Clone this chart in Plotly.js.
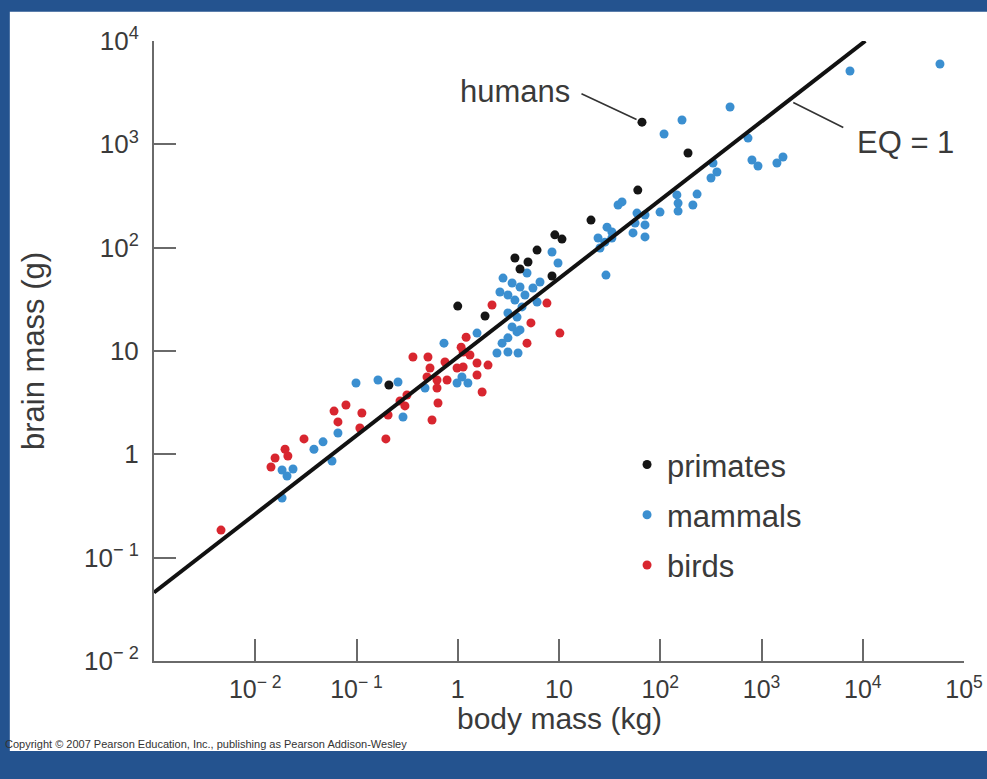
<!DOCTYPE html>
<html>
<head>
<meta charset="utf-8">
<script src="https://cdn.plot.ly/plotly-3.0.1.min.js"></script>
<style>
html,body{margin:0;padding:0;background:#24538f;}
#chart{width:987px;height:779px;}
</style>
</head>
<body>
<div id="chart"></div>
<script>
// ---- data (body mass in kg, brain mass in g) ----
const primatesBody  = [66, 188, 60, 20.7, 9.1, 10.7, 6.07, 3.67, 4.94, 4.12, 8.53, 1.86, 1.0, 0.209];
const primatesBrain = [1640, 824, 361, 185, 133, 121, 94.8, 79.4, 72.6, 62.1, 53.2, 21.8, 27.2, 4.69];

const mammalsBody = [57900, 7480, 489, 164, 109, 736, 805, 923, 1420, 1630,
  332, 363, 317, 231, 210, 146, 150, 150, 99.5,
  38.3, 41.9, 58.9, 70.7, 56.4, 70.7, 53.8, 70.7,
  29.8, 33.3, 24.3, 28.4, 25.4, 29.1, 33.3,
  8.53, 9.78, 2.80, 4.83, 3.44, 4.12, 6.49, 5.53, 2.61, 3.13,
  3.67, 4.61, 6.07, 4.31, 3.13, 3.85, 3.44, 4.12, 1.55, 3.13,
  3.85, 2.74, 0.731, 2.44, 3.13, 3.94, 1.10, 0.984, 1.26,
  0.0184, 0.0184, 0.0206, 0.0236, 0.038, 0.0467, 0.0573, 0.0656, 0.0989, 0.163, 0.257, 0.288, 0.475];
const mammalsBrain = [5990, 5130, 2300, 1720, 1260, 1150, 705, 617, 660, 754,
  660, 540, 472, 330, 259, 324, 270, 226, 221,
  259, 277, 216, 207, 173, 166, 139, 127,
  158, 142, 124, 113, 99.3, 54.3, 124,
  90.8, 71.1, 50.8, 56.9, 45.5, 41.6, 46.5, 40.7, 37.2, 34.8,
  31.1, 34.8, 29.8, 26.7, 23.3, 21.3, 17.1, 16.0, 14.9, 13.4,
  15.3, 11.9, 11.9, 9.57, 9.78, 9.57, 5.60, 4.90, 4.90,
  0.378, 0.705, 0.617, 0.721, 1.12, 1.32, 0.861, 1.61, 4.90, 5.24, 5.01, 2.30, 4.38];

const birdsBody = [0.00459, 0.0143, 0.0157, 0.0197, 0.0210, 0.0303, 0.060, 0.0787, 0.0656, 0.113,
  0.108, 0.195, 0.205, 0.269, 0.301, 0.315, 0.361, 0.508, 0.748, 0.532,
  1.13, 1.32, 0.984, 1.13, 1.55, 0.497, 0.624, 0.784, 0.624, 0.638,
  0.557, 1.21, 1.08, 1.55, 1.99, 1.74, 2.18, 7.60, 5.28, 10.2, 4.83];
const birdsBrain = [0.185, 0.754, 0.921, 1.12, 0.964, 1.41, 2.62, 3.00, 2.06, 2.51,
  1.80, 1.41, 2.40, 3.28, 2.94, 3.75, 8.75, 8.75, 7.82, 6.84,
  9.78, 9.14, 6.84, 7.00, 5.86, 5.60, 5.24, 5.24, 4.38, 3.14,
  2.15, 13.6, 10.9, 7.66, 7.31, 4.01, 27.9, 29.1, 18.7, 14.9, 11.9];

// EQ = 1 reference line (end points)
const eqBody  = [0.001, 10600];
const eqBrain = [0.046, 10000];

const xTickVals = [0.01, 0.1, 1, 10, 100, 1000, 10000, 100000];
const xTickText = ['10<sup>\u2212 2</sup>', '10<sup>\u2212 1</sup>', '1', '10', '10<sup>2</sup>', '10<sup>3</sup>', '10<sup>4</sup>', '10<sup>5</sup>'];
const yTickVals = [0.01, 0.1, 1, 10, 100, 1000, 10000];
const yTickText = ['10<sup>\u2212 2</sup>', '10<sup>\u2212 1</sup>', '1', '10', '10<sup>2</sup>', '10<sup>3</sup>', '10<sup>4</sup>'];

// ---- styling ----
const FONT = 'Liberation Sans, Arial, Helvetica, sans-serif';
const TXT = '#3a3a3a';
const AX = '#6a6a6a';
const colPrim = '#151515', colMam = '#3b8fd0', colBird = '#d8262f';

// point on EQ line (log interpolation) for the leader
function eqAt(x){
  const lx0 = Math.log10(eqBody[0]), lx1 = Math.log10(eqBody[1]);
  const ly0 = Math.log10(eqBrain[0]), ly1 = Math.log10(eqBrain[1]);
  const t = (Math.log10(x) - lx0) / (lx1 - lx0);
  return Math.pow(10, ly0 + t * (ly1 - ly0));
}
const eqLeaderX = 1860;

const mk = (c) => ({color: c, size: 9, line: {width: 0}});

const traces = [
  {x: birdsBody, y: birdsBrain, type: 'scatter', mode: 'markers', name: 'birds',
   marker: mk(colBird), legendrank: 3, legendgroup: 'b'},
  {x: mammalsBody, y: mammalsBrain, type: 'scatter', mode: 'markers', name: 'mammals',
   marker: mk(colMam), legendrank: 2, legendgroup: 'm'},
  {x: primatesBody, y: primatesBrain, type: 'scatter', mode: 'markers', name: 'primates',
   marker: mk(colPrim), legendrank: 1, legendgroup: 'p'},
  {x: eqBody, y: eqBrain, type: 'scatter', mode: 'lines', name: 'EQ = 1', showlegend: false,
   line: {color: '#111', width: 4}, hoverinfo: 'skip'}
];

const layout = {
  width: 987, height: 779,
  margin: {l: 154, r: 23, t: 41, b: 118, pad: 0},
  paper_bgcolor: '#24538f',
  plot_bgcolor: 'rgba(0,0,0,0)',
  font: {family: FONT, color: TXT, size: 25},
  showlegend: true,
  legend: {
    x: 0.584, xanchor: 'left', y: 0.36, yanchor: 'top',
    bgcolor: 'rgba(0,0,0,0)', borderwidth: 0,
    font: {family: FONT, size: 31, color: TXT},
    tracegroupgap: 7, traceorder: 'grouped'
  },
  xaxis: {
    type: 'log', range: [-3, 5], autorange: false,
    showline: true, linecolor: AX, linewidth: 2, mirror: false,
    showgrid: false, zeroline: false,
    ticks: 'inside', ticklen: 22, tickwidth: 2, tickcolor: AX,
    tickmode: 'array', tickvals: xTickVals, ticktext: xTickText,
    tickfont: {family: FONT, size: 25, color: TXT},
    ticklabelstandoff: 5
  },
  yaxis: {
    type: 'log', range: [-2, 4], autorange: false,
    showline: true, linecolor: AX, linewidth: 2, mirror: false,
    showgrid: false, zeroline: false,
    ticks: 'inside', ticklen: 22, tickwidth: 2, tickcolor: AX,
    tickmode: 'array', tickvals: yTickVals, ticktext: yTickText,
    tickfont: {family: FONT, size: 26, color: TXT},
    ticklabelstandoff: 8
  },
  shapes: [
    {type: 'rect', xref: 'paper', yref: 'paper', x0: -0.178, x1: 1.05, y0: -0.145, y1: 1.047,
     fillcolor: '#ffffff', line: {width: 0}, layer: 'below'}
  ],
  annotations: [
    // axis titles
    {xref: 'paper', yref: 'paper', x: 0.5, y: -0.0935, xanchor: 'center', yanchor: 'middle',
     text: 'body mass (kg)', showarrow: false, font: {family: FONT, size: 30, color: TXT}},
    {xref: 'paper', yref: 'paper', x: -0.1494, y: 0.5, xanchor: 'center', yanchor: 'middle',
     text: 'brain mass (g)', textangle: -90, showarrow: false, font: {family: FONT, size: 31, color: TXT}},
    // labels
    {xref: 'paper', yref: 'paper', x: 0.4457, y: 0.919, xanchor: 'center', yanchor: 'middle',
     text: 'humans', showarrow: false, font: {family: FONT, size: 31, color: TXT}},
    {x: Math.log10(primatesBody[0]), y: Math.log10(primatesBrain[0]), xref: 'x', yref: 'y',
     text: ' ', font: {size: 1}, showarrow: true, arrowhead: 0, arrowwidth: 1.6, arrowcolor: '#333',
     ax: -62, ay: -29, standoff: 6},
    {xref: 'paper', yref: 'paper', x: 0.8654, y: 0.8355, xanchor: 'left', yanchor: 'middle',
     text: 'EQ = 1', showarrow: false, font: {family: FONT, size: 31, color: TXT}},
    {x: Math.log10(eqLeaderX), y: Math.log10(eqAt(eqLeaderX)), xref: 'x', yref: 'y',
     text: ' ', font: {size: 1}, showarrow: true, arrowhead: 0, arrowwidth: 1.6, arrowcolor: '#333',
     ax: 56, ay: 28, standoff: 5},
    {xref: 'paper', yref: 'paper', x: -0.186, y: -0.134, xanchor: 'left', yanchor: 'middle',
     text: 'Copyright \u00a9 2007 Pearson Education, Inc., publishing as Pearson Addison-Wesley',
     showarrow: false, font: {family: FONT, size: 11, color: '#333'}}
  ]
};

Plotly.newPlot('chart', traces, layout, {displayModeBar: false, staticPlot: true});
</script>
</body>
</html>
